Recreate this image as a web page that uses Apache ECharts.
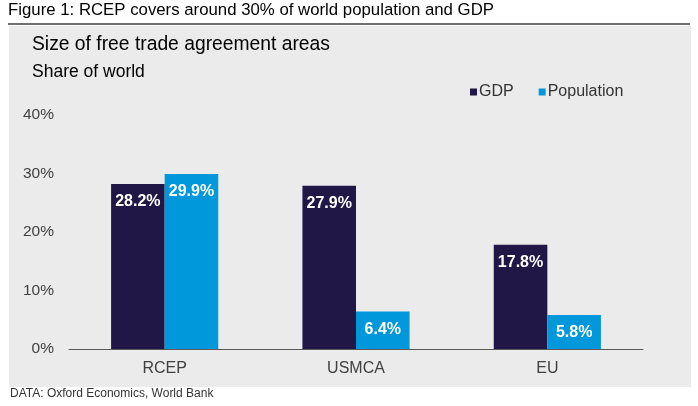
<!DOCTYPE html>
<html>
<head>
<meta charset="utf-8">
<script src="https://cdn.jsdelivr.net/npm/echarts@6/dist/echarts.min.js"></script>
<style>
html,body{margin:0;padding:0;background:#fff;}
#c{width:698px;height:406px;}
</style>
</head>
<body>
<div id="c"></div>
<script>
var categories = ['RCEP', 'USMCA', 'EU'];
var gdp = [28.2, 27.9, 17.8];
var population = [29.9, 6.4, 5.8];
var yTicks = [0, 10, 20, 30, 40];

var font = '"Liberation Sans", Arial, sans-serif';
var chart = echarts.init(document.getElementById('c'));
chart.setOption({
  animation: false,
  backgroundColor: '#ffffff',
  graphic: [
    {type: 'rect', shape: {x: 9, y: 26, width: 682, height: 361}, style: {fill: '#ebebeb'}, z: -10},
    {type: 'line', shape: {x1: 8, y1: 24, x2: 690, y2: 24}, style: {stroke: '#404040', lineWidth: 1.5}},
    {type: 'text', left: 8, top: 2, style: {text: 'Figure 1: RCEP covers around 30% of world population and GDP', font: '16.8px ' + font, fill: '#000'}},
    {type: 'text', left: 32, top: 35, style: {text: 'Size of free trade agreement areas', font: '19.3px ' + font, fill: '#000'}},
    {type: 'text', left: 32, top: 63, style: {text: 'Share of world', font: '17.5px ' + font, fill: '#000'}},
    {type: 'text', left: 10, top: 388, style: {text: 'DATA: Oxford Economics, World Bank', font: '12px ' + font, fill: '#333'}}
  ],
  legend: {
    data: ['GDP', 'Population'],
    left: 465, top: 79,
    icon: 'rect', itemWidth: 7, itemHeight: 7, itemGap: 25,
    textStyle: {fontFamily: font, fontSize: 16, color: '#333', padding: [0, 0, 0, -3]}
  },
  grid: {left: 69, right: 55, top: 115, bottom: 57},
  xAxis: {
    type: 'category', data: categories,
    axisLine: {lineStyle: {color: '#595959', width: 1}},
    axisTick: {show: false},
    axisLabel: {fontFamily: font, fontSize: 16, color: '#404040', margin: 12}
  },
  yAxis: {
    type: 'value', min: 0, max: 40, interval: 10,
    splitLine: {show: false},
    axisLine: {show: false}, axisTick: {show: false},
    axisLabel: {fontFamily: font, fontSize: 15.5, color: '#404040', margin: 15,
      formatter: function (v) { return yTicks.indexOf(v) >= 0 ? v + '%' : ''; }}
  },
  series: [
    {name: 'GDP', type: 'bar', data: gdp, barGap: '0%', barCategoryGap: '44%',
      itemStyle: {color: '#201747'},
      label: {show: true, position: 'insideTop', distance: 10, color: '#fff', fontWeight: 'bold', fontSize: 16, fontFamily: font,
        formatter: function (p) { return p.value.toFixed(1) + '%'; }}},
    {name: 'Population', type: 'bar', data: population,
      itemStyle: {color: '#0098da'},
      label: {show: true, position: 'insideTop', distance: 10, color: '#fff', fontWeight: 'bold', fontSize: 16, fontFamily: font,
        formatter: function (p) { return p.value.toFixed(1) + '%'; }}}
  ]
});
</script>
</body>
</html>
